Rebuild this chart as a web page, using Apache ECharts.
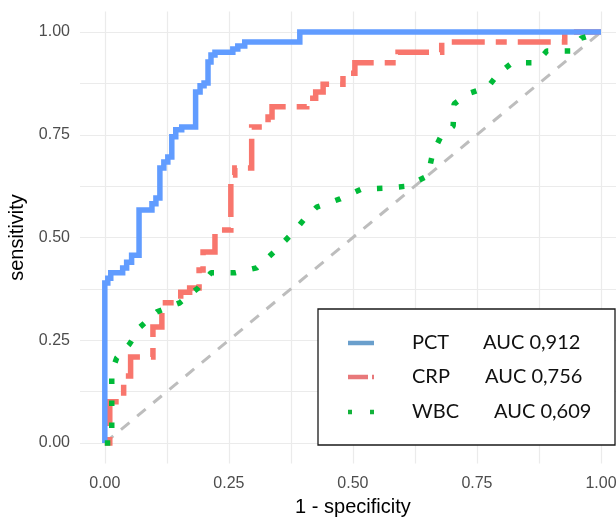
<!DOCTYPE html>
<html>
<head>
<meta charset="utf-8">
<script src="https://cdn.jsdelivr.net/npm/echarts@6/dist/echarts.min.js"></script>
<style>
html,body{margin:0;padding:0;background:#fff;}
#chart{width:616px;height:517px;}
</style>
</head>
<body>
<div id="chart"></div>
<script>
// ---- data ----
const gridTicks = [0, 0.125, 0.25, 0.375, 0.5, 0.625, 0.75, 0.875, 1];
const tickLabels = [0, 0.25, 0.5, 0.75, 1];

const pctFpr  = [0, 0, 0.006, 0.006, 0.012, 0.012, 0.036, 0.036, 0.044, 0.044, 0.054, 0.054, 0.069, 0.069, 0.095, 0.095, 0.103, 0.103, 0.111, 0.111, 0.119, 0.119, 0.127, 0.127, 0.135, 0.135, 0.143, 0.143, 0.155, 0.155, 0.183, 0.183, 0.192, 0.192, 0.200, 0.200, 0.208, 0.208, 0.214, 0.214, 0.222, 0.222, 0.258, 0.258, 0.268, 0.268, 0.282, 0.282, 0.393, 0.393, 1];
const pctSens = [0, 0.389, 0.389, 0.401, 0.401, 0.414, 0.414, 0.426, 0.426, 0.440, 0.440, 0.457, 0.457, 0.567, 0.567, 0.582, 0.582, 0.596, 0.596, 0.669, 0.669, 0.684, 0.684, 0.696, 0.696, 0.745, 0.745, 0.762, 0.762, 0.769, 0.769, 0.854, 0.854, 0.869, 0.869, 0.876, 0.876, 0.927, 0.927, 0.944, 0.944, 0.951, 0.951, 0.959, 0.959, 0.966, 0.966, 0.976, 0.976, 1, 1];

const crpFpr  = [0, 0.010, 0.010, 0.038, 0.038, 0.052, 0.052, 0.097, 0.097, 0.115, 0.115, 0.153, 0.153, 0.171, 0.171, 0.190, 0.190, 0.198, 0.198, 0.222, 0.222, 0.254, 0.254, 0.262, 0.262, 0.296, 0.296, 0.329, 0.329, 0.337, 0.337, 0.407, 0.407, 0.425, 0.425, 0.440, 0.440, 0.480, 0.480, 0.504, 0.504, 0.591, 0.591, 0.679, 0.679, 0.927, 0.927, 1];
const crpSens = [0, 0, 0.100, 0.100, 0.163, 0.163, 0.209, 0.209, 0.282, 0.282, 0.341, 0.341, 0.367, 0.367, 0.377, 0.377, 0.421, 0.421, 0.465, 0.465, 0.518, 0.518, 0.652, 0.652, 0.669, 0.669, 0.769, 0.769, 0.793, 0.793, 0.818, 0.818, 0.839, 0.839, 0.854, 0.854, 0.873, 0.873, 0.900, 0.900, 0.925, 0.925, 0.951, 0.951, 0.976, 0.976, 1, 1];

const wbcFpr  = [0, 0.014, 0.014, 0.024, 0.050, 0.071, 0.105, 0.151, 0.188, 0.214, 0.262, 0.306, 0.341, 0.377, 0.401, 0.427, 0.474, 0.518, 0.565, 0.609, 0.651, 0.661, 0.677, 0.702, 0.704, 0.730, 0.772, 0.794, 0.821, 0.869, 0.891, 0.940, 0.960, 1];
const wbcSens = [0, 0, 0.173, 0.207, 0.241, 0.282, 0.319, 0.341, 0.377, 0.414, 0.414, 0.426, 0.465, 0.509, 0.543, 0.574, 0.594, 0.618, 0.620, 0.625, 0.650, 0.706, 0.745, 0.771, 0.825, 0.849, 0.866, 0.900, 0.925, 0.925, 0.954, 0.954, 0.985, 1];

const refX = [0, 1];
const refY = [0, 1];

const legendNames = ['PCT', 'CRP', 'WBC'];
const legendAuc = ['AUC 0,912', 'AUC 0,756', 'AUC 0,609'];
const xTitle = '1 - specificity';
const yTitle = 'sensitivity';

// ---- styles ----
const colPCT = '#619CFF', colCRP = '#F8766D', colWBC = '#00BA38';
const zip = (a, b) => a.map((v, i) => [v, b[i]]);

const chart = echarts.init(document.getElementById('chart'), null, {renderer: 'canvas'});

const axisCommon = {
  type: 'value', min: -0.05, max: 1.05,
  axisLine: {show: false},
  axisTick: {show: false, customValues: gridTicks},
  splitLine: {show: true, lineStyle: {color: '#ebebeb', width: 1.2}},
  axisLabel: {
    customValues: tickLabels,
    formatter: v => v.toFixed(2),
    color: '#4d4d4d', fontFamily: 'Liberation Sans', fontSize: 16
  },
  nameLocation: 'middle',
  nameTextStyle: {color: '#000', fontFamily: 'Liberation Sans', fontSize: 20}
};

const legTop = 309, legLeft = 318;
const rows = [343, 377, 412];
const legendGraphics = [
  {type: 'rect', shape: {x: legLeft, y: legTop, width: 297, height: 136},
   style: {fill: '#fff', stroke: '#1a1a1a', lineWidth: 1.3}, z: 100},
  {type: 'line', shape: {x1: 348, y1: rows[0], x2: 374, y2: rows[0]},
   style: {stroke: '#6a9fcc', lineWidth: 4.5}, z: 101},
  {type: 'line', shape: {x1: 348, y1: rows[1], x2: 374, y2: rows[1]},
   style: {stroke: '#e8787a', lineWidth: 4.5, lineDash: [20, 4, 3, 10]}, z: 101},
  {type: 'line', shape: {x1: 348, y1: rows[2], x2: 375, y2: rows[2]},
   style: {stroke: '#12b23a', lineWidth: 4.5, lineDash: [4, 18]}, z: 101},
];
const aucX = [483, 485, 494];
legendNames.forEach((n, i) => {
  legendGraphics.push({type: 'text', x: 412, y: rows[i], z: 101,
    style: {text: n, fill: '#111', font: '20px Lato', textVerticalAlign: 'middle'}});
  legendGraphics.push({type: 'text', x: aucX[i], y: rows[i], z: 101,
    style: {text: legendAuc[i], fill: '#111', font: '20px Lato', textVerticalAlign: 'middle'}});
});

chart.setOption({
  animation: false,
  backgroundColor: '#fff',
  grid: {left: 80, top: 11.5, width: 545.8, height: 452, outerBoundsMode: 'none', containLabel: false},
  xAxis: Object.assign({}, axisCommon, {
    name: xTitle, nameGap: 34,
    axisLabel: Object.assign({}, axisCommon.axisLabel, {margin: 12})
  }),
  yAxis: Object.assign({}, axisCommon, {
    name: yTitle, nameGap: 44,
    axisLabel: Object.assign({}, axisCommon.axisLabel, {margin: 10})
  }),
  series: [
    {type: 'line', data: zip(refX, refY), symbol: 'none', silent: true, z: 1,
     lineStyle: {color: '#bdbdbd', width: 3, type: [11, 10], cap: 'butt'}},
    {type: 'line', name: 'CRP', data: zip(crpFpr, crpSens), symbol: 'none', z: 2,
     lineStyle: {color: colCRP, width: 5.5, type: [11, 11, 33, 11], cap: 'butt', join: 'miter'}},
    {type: 'line', name: 'PCT', data: zip(pctFpr, pctSens), symbol: 'none', z: 3,
     lineStyle: {color: colPCT, width: 5.5, type: 'solid', join: 'miter'}},
    {type: 'line', name: 'WBC', data: zip(wbcFpr, wbcSens), symbol: 'none', z: 4,
     lineStyle: {color: colWBC, width: 5.5, type: [5.5, 16.5], cap: 'butt'}}
  ],
  graphic: legendGraphics
});
</script>
</body>
</html>
